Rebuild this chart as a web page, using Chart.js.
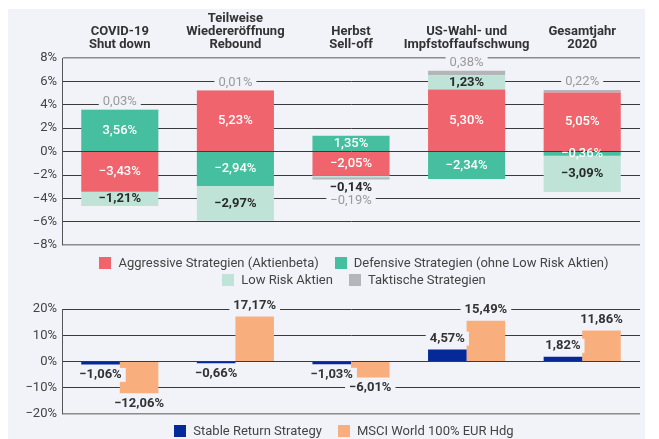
<!DOCTYPE html>
<html>
<head>
<meta charset="utf-8">
<script src="https://cdn.jsdelivr.net/npm/chart.js@4.4.1/dist/chart.umd.min.js"></script>
<style>
body{margin:0;background:#fff;width:659px;height:439px;overflow:hidden;font-family:Roboto,sans-serif}
#panel{position:absolute;left:8px;top:9px;width:637px;height:430px;background:#f2f3f9}
#c1{position:absolute;left:0;top:0}
#c2{position:absolute;left:0;top:281px}
.legend{position:absolute;width:580px;display:flex;flex-wrap:wrap;justify-content:center;column-gap:16px;row-gap:5px;font-size:13px;color:#444;line-height:12px}
.legend .item{display:flex;align-items:center;white-space:nowrap}
.legend i{display:inline-block;width:12px;height:12px;margin-right:7px}
#leg1{left:56px;top:248px}
#leg2{left:46px;top:416px}
</style>
</head>
<body>
<div id="panel">
  <canvas id="c1" width="637" height="249"></canvas>
  <canvas id="c2" width="637" height="137"></canvas>
  <div class="legend" id="leg1"></div>
  <div class="legend" id="leg2"></div>
</div>
<script>
// Kategorien / Phasen 2020
var categories = [
  ['COVID-19', 'Shut down'],
  ['Teilweise', 'Wiedereröffnung', 'Rebound'],
  ['Herbst', 'Sell-off'],
  ['US-Wahl- und', 'Impfstoffaufschwung'],
  ['Gesamtjahr', '2020']
];

// Beiträge (oberes Diagramm), in %
var aggressive = [-3.43, 5.23, -2.05, 5.30, 5.05];
var defensive  = [3.56, -2.94, 1.35, -2.34, -0.36];
var lowRisk    = [-1.21, -2.97, -0.14, 1.23, -3.09];
var tactical   = [0.03, 0.01, -0.19, 0.38, 0.22];

// Wertentwicklung (unteres Diagramm), in %
var stableReturn = [-1.06, -0.66, -1.03, 4.57, 1.82];
var msciWorld    = [-12.06, 17.17, -6.01, 15.49, 11.86];

var topTicks = {min: -8, max: 8, step: 2};
var bottomTicks = {min: -20, max: 20, step: 10};

var PANEL_BG = '#f2f3f9';
var FONT = 'Roboto';

function pct(v) {
  return (v < 0 ? '\u2212' : '') + Math.abs(v).toFixed(2).replace('.', ',') + '%';
}
function tickPct(v) {
  return (v < 0 ? '\u2212' : '') + Math.abs(v) + '%';
}

function drawLabel(ctx, text, x, y, font, color, bg) {
  ctx.save();
  ctx.font = font;
  ctx.textAlign = 'center';
  ctx.textBaseline = 'middle';
  if (bg) {
    var w = ctx.measureText(text).width + 8;
    ctx.fillStyle = PANEL_BG;
    ctx.fillRect(x - w / 2, y - 7, w, 14);
  }
  ctx.fillStyle = color;
  ctx.fillText(text, x, y);
  ctx.restore();
}

// Beschriftung oberes Diagramm
var stackLabels = {
  id: 'stackLabels',
  afterDatasetsDraw: function (chart) {
    var ctx = chart.ctx;
    var ys = chart.scales.y;
    for (var i = 0; i < categories.length; i++) {
      var pos = 0, neg = 0;
      chart.data.datasets.forEach(function (ds) {
        var v = ds.data[i];
        if (v >= 0) pos += v; else neg += v;
      });
      var posY = ys.getPixelForValue(pos) - 8;
      var negY = ys.getPixelForValue(neg) + 8.5;
      chart.data.datasets.forEach(function (ds, d) {
        var v = ds.data[i];
        var bar = chart.getDatasetMeta(d).data[i];
        var h = Math.abs(bar.base - bar.y);
        var outside = ds.kind === 'tactical' || (ds.kind === 'low' && h < 12);
        var font, color;
        if (ds.kind === 'tactical') { font = '13px ' + FONT; color = '#9a9a9a'; }
        else if (ds.kind === 'low') { font = 'bold 13px ' + FONT; color = '#2a2a2a'; }
        else { font = '500 13px ' + FONT; color = '#ffffff'; }
        var y;
        if (outside) {
          if (v >= 0) { y = posY; posY -= 13; }
          else { y = negY; negY += 13; }
        } else {
          y = (bar.base + bar.y) / 2;
        }
        drawLabel(ctx, pct(v), bar.x, y, font, color, ds.kind === 'tactical');
      });
    }
  }
};

// Beschriftung unteres Diagramm
var barLabels = {
  id: 'barLabels',
  afterDatasetsDraw: function (chart) {
    var ctx = chart.ctx;
    chart.data.datasets.forEach(function (ds, d) {
      chart.getDatasetMeta(d).data.forEach(function (bar, i) {
        var v = ds.data[i];
        var y = v >= 0 ? bar.y - 11 : bar.y + 10.5;
        drawLabel(ctx, pct(v), bar.x, y, 'bold 13px ' + FONT, '#333333', true);
      });
    });
  }
};

function yAxis(t, grayTop) {
  return {
    min: t.min, max: t.max,
    afterFit: function (axis) { axis.width = 54; },
    ticks: {
      stepSize: t.step, padding: 5, color: '#444',
      font: {family: FONT, size: 13},
      callback: function (v) { return tickPct(v); }
    },
    grid: {
      drawTicks: false,
      color: function (c) {
        var v = c.tick.value;
        return (v === t.min || (grayTop && v === t.max)) ? '#8c8c8c' : '#3a3a3a';
      },
      lineWidth: function (c) {
        var v = c.tick.value;
        return (v === t.min || (grayTop && v === t.max)) ? 1.5 : 1;
      }
    },
    border: {display: true, color: '#555', width: 1}
  };
}

Chart.defaults.font.family = FONT;

var topSets = [
  {label: 'Aggressive Strategien (Aktienbeta)', kind: 'agg', data: aggressive, backgroundColor: '#f0656d'},
  {label: 'Defensive Strategien (ohne Low Risk Aktien)', kind: 'def', data: defensive, backgroundColor: '#45bf9f'},
  {label: 'Low Risk Aktien', kind: 'low', data: lowRisk, backgroundColor: '#bfe4d7'},
  {label: 'Taktische Strategien', kind: 'tactical', data: tactical, backgroundColor: '#b4b5b9'}
];

new Chart(document.getElementById('c1'), {
  type: 'bar',
  data: {labels: categories, datasets: topSets},
  options: {
    responsive: false, animation: false, devicePixelRatio: 1,
    layout: {padding: {right: 5, bottom: 10}},
    datasets: {bar: {categoryPercentage: 0.667, barPercentage: 1}},
    plugins: {legend: {display: false}, tooltip: {enabled: false}},
    scales: {
      x: {
        position: 'top', stacked: true,
        afterFit: function (axis) { axis.height = 49; },
        grid: {display: false, drawTicks: false},
        border: {display: false},
        ticks: {
          color: '#333', padding: 6.5, maxRotation: 0, autoSkip: false,
          font: {family: FONT, size: 13, weight: 'bold', lineHeight: 1}
        }
      },
      y: Object.assign(yAxis(topTicks, true), {stacked: true})
    }
  },
  plugins: [stackLabels]
});

var bottomSets = [
  {label: 'Stable Return Strategy', data: stableReturn, backgroundColor: '#06299a'},
  {label: 'MSCI World 100% EUR Hdg', data: msciWorld, backgroundColor: '#f8af7d'}
];

new Chart(document.getElementById('c2'), {
  type: 'bar',
  data: {labels: categories, datasets: bottomSets},
  options: {
    responsive: false, animation: false, devicePixelRatio: 1,
    layout: {padding: {top: 19, right: 5, bottom: 7}},
    datasets: {bar: {categoryPercentage: 0.667, barPercentage: 1}},
    plugins: {legend: {display: false}, tooltip: {enabled: false}},
    scales: {
      x: {display: false},
      y: yAxis(bottomTicks, false)
    }
  },
  plugins: [barLabels]
});

// Legenden
function buildLegend(id, sets) {
  var el = document.getElementById(id);
  sets.forEach(function (ds) {
    var item = document.createElement('span');
    item.className = 'item';
    var box = document.createElement('i');
    box.style.background = ds.backgroundColor;
    item.appendChild(box);
    item.appendChild(document.createTextNode(ds.label));
    el.appendChild(item);
  });
}
buildLegend('leg1', topSets);
buildLegend('leg2', bottomSets);
</script>
</body>
</html>
